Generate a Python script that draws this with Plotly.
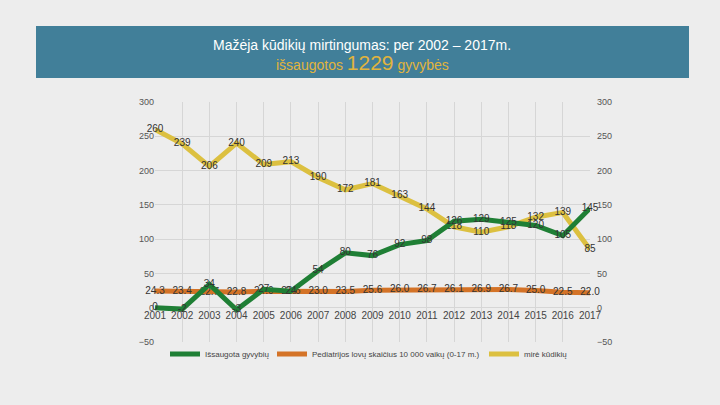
import plotly.graph_objects as go

years = list(range(2001, 2018))
year_labels = [str(y) for y in years]
saved_lives = [0, -2, 34, -3, 27, 24, 54, 80, 76, 92, 98, 126, 129, 125, 120, 105, 145]
ped_beds = [24.3, 23.4, 22.7, 22.8, 24.0, 23.6, 23.0, 23.5, 25.6, 26.0, 26.7, 26.1, 26.9, 26.7, 25.0, 22.5, 22.0]
infant_deaths = [260, 239, 206, 240, 209, 213, 190, 172, 181, 163, 144, 118, 110, 118, 132, 139, 85]
y_ticks = [-50, 0, 50, 100, 150, 200, 250, 300]

names = ["Išsaugota gyvybių", "Pediatrijos lovų skaičius 10 000 vaikų (0-17 m.)", "mirė kūdikių"]
colors = ["#1F7F35", "#D47327", "#DCC040"]

BG = "#EDEDED"
FONT = "Liberation Sans Narrow, Arial Narrow, Liberation Sans, Arial, sans-serif"

fig = go.Figure()
series = [saved_lives, ped_beds, infant_deaths]
texts = [
    [str(v) for v in saved_lives],
    [f"{v:.1f}" for v in ped_beds],
    [str(v) for v in infant_deaths],
]
legends = ["legend", "legend2", "legend3"]
order = [2, 1, 0]
for i in order:
    fig.add_trace(go.Scatter(
        x=years, y=series[i], mode="lines+text", name=names[i],
        text=texts[i], textposition="middle center",
        textfont=dict(size=10, color="#333333", family=FONT),
        line=dict(color=colors[i], width=5),
        cliponaxis=False, legend=legends[i], showlegend=True,
    ))

# invisible trace for right axis
fig.add_trace(go.Scatter(x=[years[0]], y=[0], yaxis="y2", mode="markers",
                         marker=dict(opacity=0), showlegend=False, hoverinfo="skip"))

W, H = 720, 405
L, R, T, B = 155, 130, 102, 63
pw = W - L - R
ph = H - T - B

def px(x):
    return (x - L) / pw

def py(y):
    return (H - B - y) / ph

fig.add_shape(type="rect", xref="paper", yref="paper",
              x0=px(36), x1=px(689), y0=py(78), y1=py(26),
              fillcolor="#417F99", line=dict(width=0), layer="below")

fig.add_annotation(xref="paper", yref="paper", x=px(362), y=py(45),
                   text="Mažėja kūdikių mirtingumas: per 2002 – 2017m.",
                   showarrow=False, font=dict(size=14, color="white", family=FONT),
                   xanchor="center", yanchor="middle")
fig.add_annotation(xref="paper", yref="paper", x=px(362), y=py(63),
                   text="išsaugotos <span style='font-size:21px'>1229</span> gyvybės",
                   showarrow=False, font=dict(size=14, color="#E1B43C", family=FONT),
                   xanchor="center", yanchor="middle")

axis_font = dict(size=9, color="#555555", family=FONT)
yrange = [-50, 300]
fig.update_layout(
    width=W, height=H,
    margin=dict(l=L, r=R, t=T, b=B, pad=0),
    paper_bgcolor=BG, plot_bgcolor=BG,
    font=dict(family=FONT),
    xaxis=dict(range=[years[0], years[-1]], tickmode="array", tickvals=years,
               ticktext=year_labels, showgrid=True, gridcolor="#D6D6D6", gridwidth=1,
               zeroline=False, showline=False, anchor="free",
               position=(0 - yrange[0]) / (yrange[1] - yrange[0]),
               tickfont=dict(size=10, color="#444444", family=FONT), ticks=""),
    yaxis=dict(range=yrange, tickvals=y_ticks, showgrid=True, gridcolor="#D6D6D6",
               zeroline=False, showline=False, tickfont=axis_font, ticks=""),
    yaxis2=dict(range=yrange, tickvals=y_ticks, overlaying="y", side="right",
                showgrid=False, zeroline=False, showline=False, tickfont=axis_font, ticks="",
                ticklabelstandoff=6),
)
legend_common = dict(orientation="h", yanchor="middle", xanchor="left",
                     bgcolor="rgba(0,0,0,0)", font=dict(size=8, color="#444444", family=FONT),
                     itemwidth=30)
fig.update_layout(
    legend=dict(x=px(165), y=py(354), **legend_common),
    legend2=dict(x=px(272), y=py(354), **legend_common),
    legend3=dict(x=px(484), y=py(354), **legend_common),
)

fig.write_html("out.html", config={"displayModeBar": False},
               post_script="document.body.style.margin='0';document.body.style.background='#EDEDED';")
